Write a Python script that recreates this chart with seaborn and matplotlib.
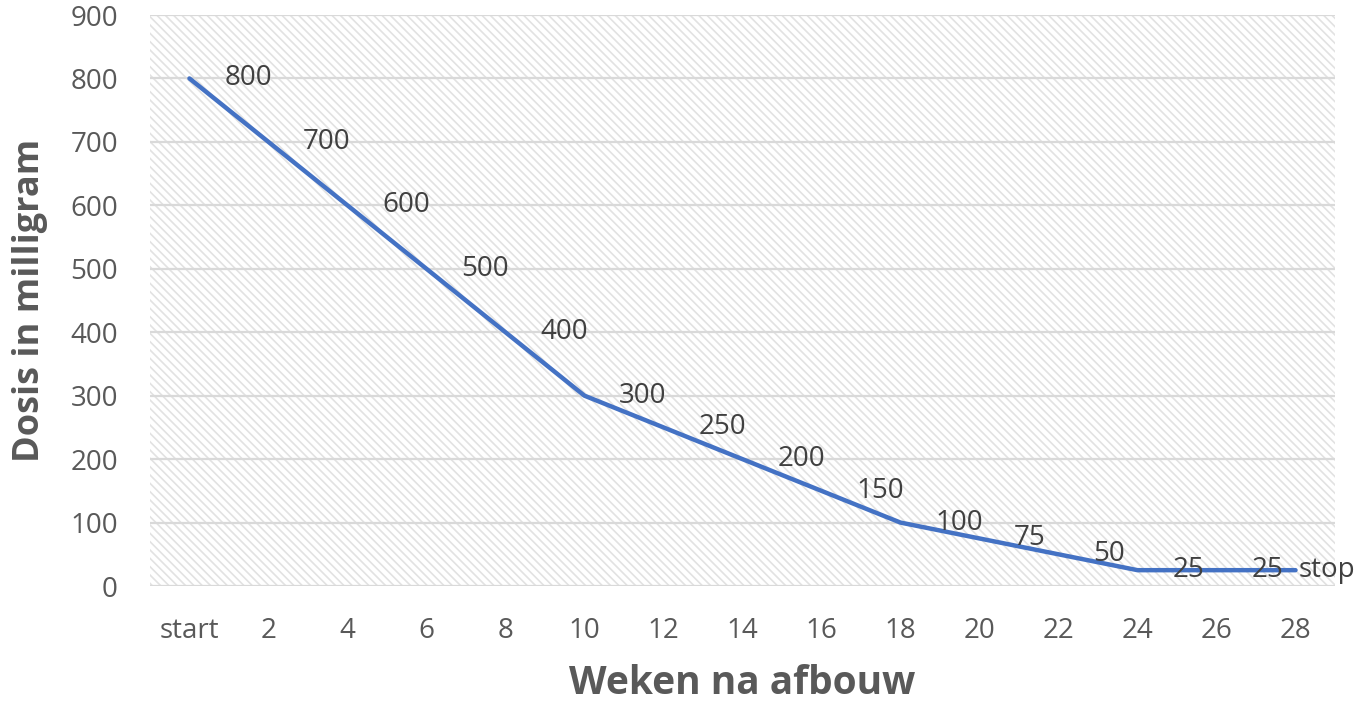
import numpy as np
import pandas as pd
import matplotlib
matplotlib.use('Agg')
import matplotlib.pyplot as plt
import seaborn as sns
from matplotlib.patches import Rectangle

# data
weeks = ['start', '2', '4', '6', '8', '10', '12', '14', '16', '18', '20', '22', '24', '26', '28']
dose = [800, 700, 600, 500, 400, 300, 250, 200, 150, 100, 75, 50, 25, 25, 25]
point_labels = ['800', '700', '600', '500', '400', '300', '250', '200', '150', '100', '75', '50', '25', '25', 'stop']
y_ticks = [0, 100, 200, 300, 400, 500, 600, 700, 800, 900]

LINE_COLOR = '#4472C4'
TICK_COLOR = '#595959'
LABEL_COLOR = '#404040'
GRID_COLOR = '#d9d9d9'
HATCH_COLOR = '#e2e2e2'


def setup_style():
    sns.set_theme(style='white')
    plt.rcParams['font.family'] = ['Open Sans', 'DejaVu Sans']
    plt.rcParams['hatch.linewidth'] = 1.2
    plt.rcParams['hatch.color'] = HATCH_COLOR


def draw_chart(df):
    fig = plt.figure(figsize=(13.68, 7.01), dpi=100)
    ax = fig.add_axes([0.1096, 0.164, 0.8663, 0.8146])

    # hatched plot area background
    bg = Rectangle((0, 0), 1, 1, transform=ax.transAxes, facecolor='white',
                   edgecolor=HATCH_COLOR, hatch='\\\\\\\\', linewidth=0, zorder=0)
    ax.add_patch(bg)

    sns.lineplot(data=df, x='week', y='dose', ax=ax, color=LINE_COLOR,
                 linewidth=3.2, sort=False, zorder=3)

    for i, (v, lab) in enumerate(zip(df['dose'], df['label'])):
        dx = 2 if lab == 'stop' else 25
        ax.annotate(lab, (i, v), xytext=(dx, 0), textcoords='offset points',
                    ha='left', va='center', fontsize=20, color=LABEL_COLOR, zorder=4)

    ax.set_xlim(-0.5, len(weeks) - 0.5)
    ax.set_ylim(0, 900)
    ax.set_yticks(y_ticks)
    ax.yaxis.grid(True, color=GRID_COLOR, linewidth=1.6, zorder=1)
    ax.xaxis.grid(False)
    ax.set_axisbelow(True)
    for s in ax.spines.values():
        s.set_visible(False)

    ax.tick_params(axis='both', length=0, labelsize=20, labelcolor=TICK_COLOR)
    ax.tick_params(axis='y', pad=23)
    ax.tick_params(axis='x', pad=22)

    ax.set_xlabel('Weken na afbouw', fontsize=28, fontweight='bold', color=TICK_COLOR, labelpad=14)
    ax.set_ylabel('Dosis in milligram', fontsize=26, fontweight='bold', color=TICK_COLOR, labelpad=16)

    fig.savefig('out.png', dpi=100)
    plt.close(fig)


def main():
    setup_style()
    df = pd.DataFrame({'week': weeks, 'dose': dose, 'label': point_labels})
    draw_chart(df)


if __name__ == '__main__':
    main()
